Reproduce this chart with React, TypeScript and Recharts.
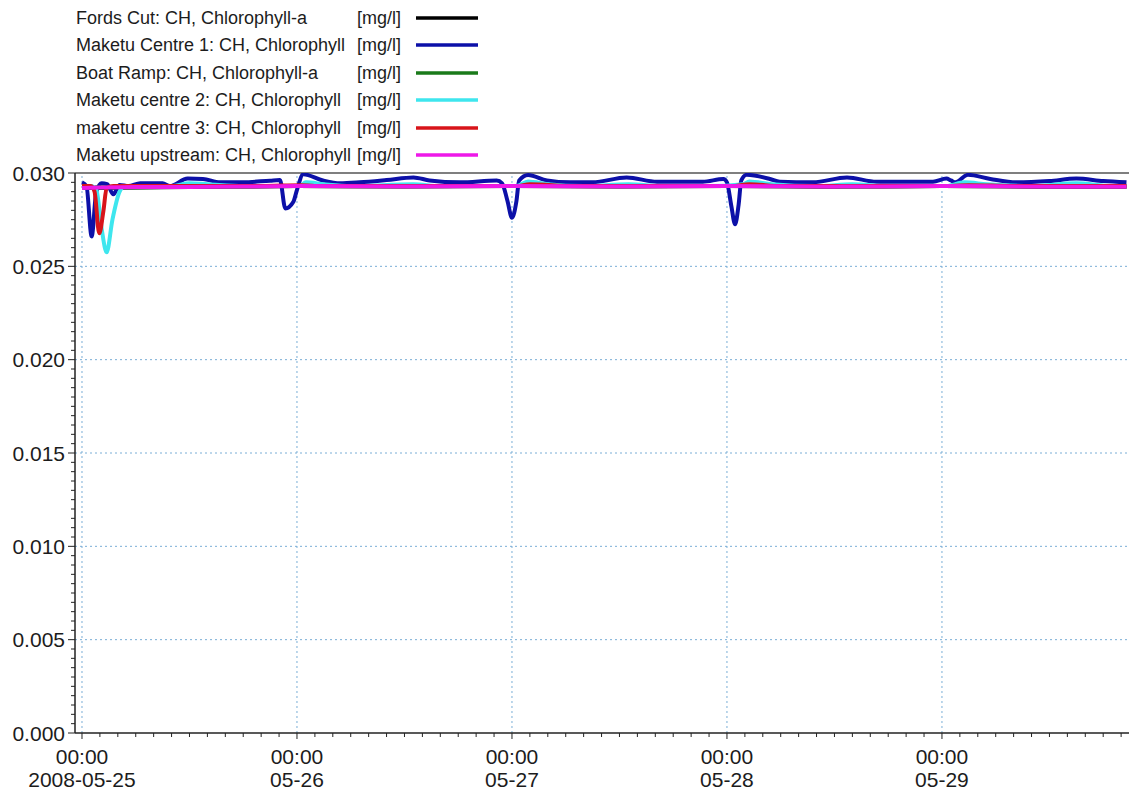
import React from 'react';
import { LineChart, Line, XAxis, YAxis, ReferenceLine } from 'recharts';

if (typeof document !== 'undefined') {
  document.body.style.margin = '0';
}

const FONT = "'Liberation Sans', Arial, Helvetica, sans-serif";

// ---- series metadata ----
const seriesNames = [
  'Fords Cut: CH, Chlorophyll-a',
  'Maketu Centre 1: CH, Chlorophyll',
  'Boat Ramp: CH, Chlorophyll-a',
  'Maketu centre 2: CH, Chlorophyll',
  'maketu centre 3: CH, Chlorophyll',
  'Maketu upstream: CH, Chlorophyll',
];
const seriesUnit = '[mg/l]';
const seriesColors = ['#000000', '#0c10a8', '#1a7a1a', '#3ee6ee', '#d8141a', '#ee18e8'];

// ---- series values (hours since 2008-05-25 00:00, mg/l) ----
const fordsHours = [0, 12, 24, 36, 48, 60, 72, 84, 96, 108, 116.6];
const fordsValues = [0.0292, 0.02925, 0.0293, 0.02928, 0.0293, 0.02928, 0.0293, 0.02927, 0.0293, 0.02927, 0.02927];

const centre1Hours = [
  0, 0.5, 1.08, 1.6, 2.2, 2.8, 3.5, 4.2, 5.2, 6.5, 9, 9.8, 11.8, 13.5, 15.4, 18, 21, 22.1, 22.7, 23.6, 24.0,
  24.7, 26.9, 28.8, 31, 34, 37, 38.8, 42.2, 46.3, 46.9, 47.5, 48.0, 48.5, 48.8, 49.8, 51.9, 54.5, 57, 60.8,
  64.2, 69.3, 71.6, 72.0, 72.5, 72.9, 73.3, 73.6, 74.2, 76.8, 77.9, 81.6, 85.4, 88.7, 95, 96.5, 97.0, 97.5,
  98.9, 101.4, 104.3, 108, 111, 114, 116.6,
];
const centre1Values = [
  0.0295, 0.0293, 0.0266, 0.029, 0.02945, 0.0294, 0.02886, 0.02936, 0.0293, 0.02945, 0.02945, 0.0293, 0.0297,
  0.02968, 0.0295, 0.0295, 0.02959, 0.02962, 0.0281, 0.02846, 0.0291, 0.02993, 0.0296, 0.02945, 0.0295,
  0.02962, 0.02976, 0.0296, 0.0295, 0.0296, 0.02945, 0.0285, 0.0276, 0.0285, 0.0296, 0.02989, 0.0296, 0.0295,
  0.0295, 0.02976, 0.02953, 0.02953, 0.02968, 0.0295, 0.0282, 0.02725, 0.0283, 0.0296, 0.0299, 0.02968,
  0.02953, 0.0295, 0.02976, 0.02953, 0.02953, 0.0297, 0.0296, 0.0295, 0.0299, 0.02968, 0.0295, 0.02957,
  0.0297, 0.02957, 0.0295,
];

const boatHours = [0, 12, 24, 36, 48, 60, 72, 84, 96, 108, 116.6];
const boatValues = [0.02922, 0.02926, 0.0293, 0.02929, 0.02931, 0.02929, 0.02931, 0.02928, 0.0293, 0.02928, 0.02928];

const centre2Hours = [
  0, 1.0, 1.6, 2.2, 2.75, 3.4, 4.2, 4.8, 10, 12, 14, 18, 22, 24.3, 25, 27, 30, 37, 40, 45, 48.5, 49.8, 52, 56,
  61, 65, 70, 73.8, 74.5, 77, 82, 86, 90, 96.5, 98.5, 101, 106, 111, 115, 116.6,
];
const centre2Values = [
  0.0293, 0.0293, 0.0291, 0.027, 0.02575, 0.0275, 0.029, 0.0293, 0.0293, 0.02945, 0.0294, 0.0293, 0.0293,
  0.0293, 0.0295, 0.0294, 0.0293, 0.0294, 0.0293, 0.0293, 0.0293, 0.02955, 0.0294, 0.0293, 0.0294, 0.0293,
  0.0293, 0.0294, 0.02955, 0.0294, 0.0293, 0.0294, 0.0293, 0.0293, 0.0295, 0.0294, 0.0293, 0.02945, 0.0293,
  0.0293,
];

const centre3Hours = [0, 1.0, 1.4, 1.93, 2.4, 2.75, 3.5, 10, 20, 24.5, 26, 30, 40, 48.5, 50, 55, 65, 72.5, 74.5, 78, 90, 97, 99, 104, 116.6];
const centre3Values = [
  0.0293, 0.0293, 0.029, 0.02677, 0.028, 0.0292, 0.0293, 0.0293, 0.0293, 0.02935, 0.0293, 0.0293, 0.0293,
  0.0293, 0.0294, 0.0293, 0.0293, 0.0293, 0.0294, 0.0293, 0.0293, 0.0293, 0.02935, 0.0293, 0.0293,
];

const upstreamHours = [0, 6, 12, 24, 36, 48, 60, 72, 84, 96, 108, 116.6];
const upstreamValues = [0.0292, 0.02925, 0.02925, 0.0293, 0.02928, 0.0293, 0.02928, 0.0293, 0.02927, 0.0293, 0.02927, 0.02927];

// ---- ticks ----
const xMajorTicks = [0, 24, 48, 72, 96];
const xMajorLabelsTop = ['00:00', '00:00', '00:00', '00:00', '00:00'];
const xMajorLabelsBottom = ['2008-05-25', '05-26', '05-27', '05-28', '05-29'];
const xMinorTicks = [
  0, 2, 4, 6, 8, 10, 12, 14, 16, 18, 20, 22, 24, 26, 28, 30, 32, 34, 36, 38, 40, 42, 44, 46, 48, 50, 52, 54, 56,
  58, 60, 62, 64, 66, 68, 70, 72, 74, 76, 78, 80, 82, 84, 86, 88, 90, 92, 94, 96, 98, 100, 102, 104, 106, 108,
  110, 112, 114, 116,
];
const yMajorTicks = [0, 0.005, 0.01, 0.015, 0.02, 0.025, 0.03];
const yMajorLabels = ['0.000', '0.005', '0.010', '0.015', '0.020', '0.025', '0.030'];
const yMinorTicks = [
  0, 0.0005, 0.001, 0.0015, 0.002, 0.0025, 0.003, 0.0035, 0.004, 0.0045, 0.005, 0.0055, 0.006, 0.0065, 0.007,
  0.0075, 0.008, 0.0085, 0.009, 0.0095, 0.01, 0.0105, 0.011, 0.0115, 0.012, 0.0125, 0.013, 0.0135, 0.014,
  0.0145, 0.015, 0.0155, 0.016, 0.0165, 0.017, 0.0175, 0.018, 0.0185, 0.019, 0.0195, 0.02, 0.0205, 0.021,
  0.0215, 0.022, 0.0225, 0.023, 0.0235, 0.024, 0.0245, 0.025, 0.0255, 0.026, 0.0265, 0.027, 0.0275, 0.028,
  0.0285, 0.029, 0.0295, 0.03,
];

const toPoints = (hours: number[], values: number[]) => hours.map((h, i) => ({ h, v: values[i] }));

const seriesData = [
  toPoints(fordsHours, fordsValues),
  toPoints(centre1Hours, centre1Values),
  toPoints(boatHours, boatValues),
  toPoints(centre2Hours, centre2Values),
  toPoints(centre3Hours, centre3Values),
  toPoints(upstreamHours, upstreamValues),
];

const TEXT = '#1c1c1c';
const GRID = '#7aaed6';

const isClose = (a: number, b: number) => Math.abs(a - b) < 1e-7;

const XTick = (props: any) => {
  const { x, y, payload } = props;
  const idx = xMajorTicks.findIndex((t) => isClose(t, payload.value));
  const major = idx >= 0;
  return (
    <g>
      <line x1={x} x2={x} y1={y} y2={y + (major ? 6 : 4)} stroke="#222" strokeWidth={1} />
      {major && (
        <text x={x} y={y + 31} textAnchor="middle" fontFamily={FONT} fontSize={21} fill={TEXT}>
          <tspan x={x}>{xMajorLabelsTop[idx]}</tspan>
          <tspan x={x} dy={23}>{xMajorLabelsBottom[idx]}</tspan>
        </text>
      )}
    </g>
  );
};

const YTick = (props: any) => {
  const { x, y, payload } = props;
  const idx = yMajorTicks.findIndex((t) => isClose(t, payload.value));
  const major = idx >= 0;
  return (
    <g>
      <line x1={x - (major ? 7 : 4)} x2={x} y1={y} y2={y} stroke="#222" strokeWidth={1} />
      {major && (
        <text x={x - 10} y={y + 7.5} textAnchor="end" fontFamily={FONT} fontSize={21} fill={TEXT}>
          {yMajorLabels[idx]}
        </text>
      )}
    </g>
  );
};

const legendRowY = [18, 45, 73, 100, 128, 155];

const LegendBox = () => (
  <svg width={500} height={172} style={{ position: 'absolute', left: 0, top: 0 }}>
    {seriesNames.map((name, i) => (
      <g key={name}>
        <text x={76} y={legendRowY[i] + 6} fontFamily={FONT} fontSize={18} fill={TEXT}>
          {name}
        </text>
        <text x={357} y={legendRowY[i] + 6} fontFamily={FONT} fontSize={18} fill={TEXT}>
          {seriesUnit}
        </text>
        <line x1={416} x2={478} y1={legendRowY[i]} y2={legendRowY[i]} stroke={seriesColors[i]} strokeWidth={3.4} />
      </g>
    ))}
  </svg>
);

export default function App() {
  return (
    <div style={{ position: 'relative', width: 1131, height: 794, background: '#fff' }}>
      <LineChart width={1131} height={794} margin={{ top: 173, right: 2, left: 0, bottom: 0 }}>
        {xMajorTicks.map((t) => (
          <ReferenceLine key={'gx' + t} x={t} stroke={GRID} strokeDasharray="2 3" strokeWidth={1} />
        ))}
        {yMajorTicks.slice(1, 6).map((t) => (
          <ReferenceLine key={'gy' + t} y={t} stroke={GRID} strokeDasharray="2 3" strokeWidth={1} />
        ))}
        <ReferenceLine y={0.03} stroke="#555" strokeWidth={1.5} />
        <XAxis
          dataKey="h"
          type="number"
          domain={[-0.78, 116.88]}
          allowDataOverflow
          ticks={xMinorTicks}
          interval={0}
          tickSize={0}
          tickMargin={0}
          tickLine={false}
          tick={<XTick />}
          height={61}
          axisLine={{ stroke: '#222', strokeWidth: 1.5 }}
        />
        <YAxis
          type="number"
          domain={[0, 0.03]}
          allowDataOverflow
          ticks={yMinorTicks}
          interval={0}
          tickSize={0}
          tickMargin={0}
          tickLine={false}
          tick={<YTick />}
          width={75}
          axisLine={{ stroke: '#222', strokeWidth: 1.5 }}
        />
        {seriesData.map((pts, i) => (
          <Line
            key={seriesNames[i]}
            data={pts}
            dataKey="v"
            type="monotone"
            stroke={seriesColors[i]}
            strokeWidth={4}
            dot={false}
            activeDot={false}
            isAnimationActive={false}
          />
        ))}
      </LineChart>
      <LegendBox />
    </div>
  );
}
